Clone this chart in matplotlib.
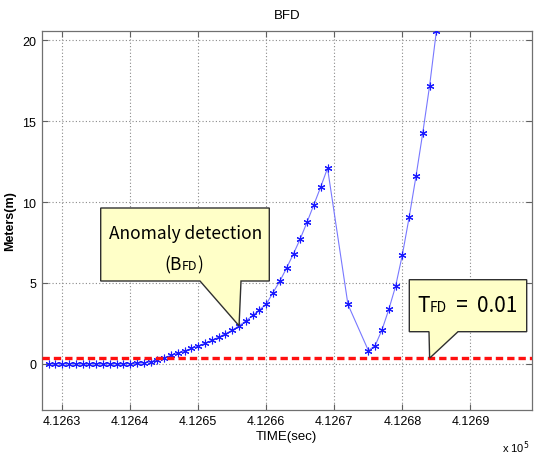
import numpy as np
import matplotlib.pyplot as plt
from matplotlib.patches import Polygon
from matplotlib.offsetbox import TextArea, HPacker, AnnotationBbox

plt.rcParams['font.family'] = ['Liberation Sans Narrow', 'Liberation Sans', 'DejaVu Sans']

# data
time_sec = [412628, 412629, 412630, 412631, 412632, 412633, 412634, 412635,
            412636, 412637, 412638, 412639, 412640, 412641, 412642, 412643,
            412644, 412645, 412646, 412647, 412648, 412649, 412650, 412651,
            412652, 412653, 412654, 412655, 412656, 412657, 412658, 412659,
            412660, 412661, 412662, 412663, 412664, 412665, 412666, 412667,
            412668, 412669, 412672, 412675, 412676, 412677, 412678, 412679,
            412680, 412681, 412682, 412683, 412684, 412685]
bfd_m = [0.0, 0.0, 0.0, 0.0, 0.0, 0.0, 0.0, 0.0,
         0.0, 0.0, 0.0, 0.0, 0.01, 0.03, 0.06, 0.12,
         0.25, 0.38, 0.52, 0.66, 0.80, 0.95, 1.10, 1.27,
         1.45, 1.65, 1.86, 2.08, 2.35, 2.65, 2.99, 3.34,
         3.69, 4.41, 5.12, 5.94, 6.81, 7.74, 8.77, 9.85,
         10.94, 12.1, 3.67, 0.82, 1.13, 2.10, 3.36, 4.80,
         6.75, 9.08, 11.6, 14.3, 17.2, 20.6]
threshold = 0.35
xticks = [412630, 412640, 412650, 412660, 412670, 412680, 412690]
yticks = [0, 5, 10, 15, 20]

W, H = 537, 456
fig = plt.figure(figsize=(W / 100, H / 100), dpi=100)
ax = fig.add_axes([41.7 / W, 1 - 410.9 / H, 490 / W, 379.2 / H])

ax.plot(time_sec, bfd_m, '-', color='#7878ff', lw=0.8, zorder=3)
ax.plot(time_sec, bfd_m, linestyle='none', marker=(6, 2, 0), color='#1a1aff',
        ms=5.5, mew=0.8, zorder=4)
ax.axhline(threshold, color='#ff1010', lw=2.4, linestyle=(0, (2.2, 1.2)), zorder=5)

ax.set_xlim(412627, 412699)
ax.set_ylim(-2.85, 20.6)
ax.set_xticks(xticks)
ax.set_xticklabels(['%.4f' % (v / 1e5) for v in xticks])
ax.set_yticks(yticks)
ax.tick_params(direction='in', length=4, top=True, right=True, labelsize=9,
               color='#606060', pad=4)
for s in ax.spines.values():
    s.set_color('#707070')
    s.set_linewidth(0.9)
ax.grid(True, color='#8a8a8a', linestyle=(0, (1, 2)), lw=0.8)

ax.set_title('BFD', fontsize=9.5, pad=9)
ax.set_xlabel('TIME(sec)', fontsize=9.5, labelpad=2)
ax.set_ylabel('Meters(m)', fontsize=9, fontweight='bold')
ax.yaxis.set_label_coords(-(41.7 - 16) / 490, 0.5)
fig.text(529 / W, 1 - 448 / H, r'x 10$^{5}$', fontsize=8, va='center', ha='right')

# callouts (figure pixel coordinates, y from top)
inv = fig.transFigure.inverted()


def fpx(x, y):
    return (x / W, 1 - y / H)


def tip_of(xd, yd):
    return inv.transform(ax.transData.transform((xd, yd)))


box_fc = '#ffffc8'
tip1 = tip_of(time_sec[28], bfd_m[28])
pts1 = [fpx(100.7, 209), fpx(269.3, 209), fpx(269.3, 282), fpx(241, 282),
        tuple(tip1), fpx(200, 282), fpx(100.7, 282)]
fig.add_artist(Polygon(pts1, closed=True, fc=box_fc, ec='#303030', lw=1.0,
                       transform=fig.transFigure, zorder=6))

tip2 = tip_of(412684, threshold)
pts2 = [fpx(409.3, 280.7), fpx(526.7, 280.7), fpx(526.7, 332.7), fpx(458, 332.7),
        tuple(tip2), fpx(429, 332.7), fpx(409.3, 332.7)]
fig.add_artist(Polygon(pts2, closed=True, fc=box_fc, ec='#303030', lw=1.0,
                       transform=fig.transFigure, zorder=6))

cfont = ['Noto Sans CJK KR', 'DejaVu Sans']
fig.text(185.3 / W, 1 - 234 / H, 'Anomaly detection', fontsize=12.5,
         family=cfont, ha='center', va='center', zorder=7)


def packed(parts, xy):
    kids = [TextArea(t, textprops=dict(fontsize=fs, family=cfont)) for t, fs in parts]
    pack = HPacker(children=kids, align='baseline', pad=0, sep=0)
    ab = AnnotationBbox(pack, xy, xycoords='figure fraction', frameon=False,
                        box_alignment=(0.5, 0.5), annotation_clip=False, zorder=7)
    fig.add_artist(ab)


packed([('(B', 12.5), ('FD', 9), (')', 12.5)], fpx(184, 265))
packed([('T', 15), ('FD', 10), ('  =  0.01', 15)], fpx(467, 306))

fig.savefig('out.png', dpi=100)
